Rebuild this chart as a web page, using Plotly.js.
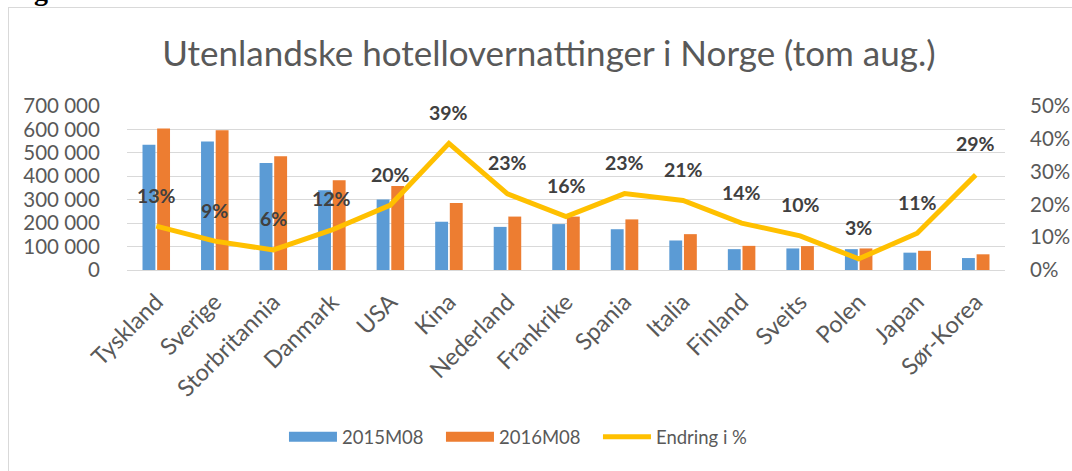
<!DOCTYPE html>
<html>
<head>
<meta charset="utf-8">
<script src="https://cdn.plot.ly/plotly-3.0.1.min.js"></script>
<style>
  html, body { margin: 0; padding: 0; background: #fff; overflow: hidden; width: 1072px; height: 471px; }
  #frame { position: absolute; left: 8px; top: 7px; width: 1080px; height: 480px; border: 1px solid #d9d9d9; box-sizing: border-box; }
  #fig { position: absolute; left: 9px; top: -23px; font-family: "Liberation Serif", serif; font-weight: bold; font-size: 28px; line-height: 28px; color: #000; white-space: nowrap; }
  #chart { position: absolute; left: 0; top: 0; width: 1072px; height: 471px; }
</style>
</head>
<body>
<div id="frame"></div>
<div id="fig">Figur 1</div>
<div id="chart"></div>
<script>
const categories = ["Tyskland","Sverige","Storbritannia","Danmark","USA","Kina","Nederland","Frankrike","Spania","Italia","Finland","Sveits","Polen","Japan","Sør-Korea"];
const values2015 = [535000,549000,457000,340000,301000,206000,184000,196000,174000,126000,89000,92000,89000,74000,51000];
const values2016 = [604000,597000,485000,383000,359000,286000,228000,228000,216000,153000,103000,102000,92000,82000,67000];
const changePct = [0.134,0.088,0.061,0.122,0.198,0.386,0.232,0.163,0.233,0.212,0.143,0.104,0.034,0.112,0.290];
const seriesNames = ["2015M08","2016M08","Endring i %"];
const titleText = "Utenlandske hotellovernattinger i Norge (tom aug.)";

const FONT = "Lato, 'Open Sans', sans-serif";
const GRAY = "#595959";
const BLUE = "#5b9bd5", ORANGE = "#ed7d31", GOLD = "#ffc000";

const traces = [
  {type:"bar", name:seriesNames[0], x:categories, y:values2015, marker:{color:BLUE}, hoverinfo:"none", showlegend:false},
  {type:"bar", name:seriesNames[1], x:categories, y:values2016, marker:{color:ORANGE}, hoverinfo:"none", showlegend:false},
  {type:"scatter", mode:"lines", name:seriesNames[2], x:categories, y:changePct, yaxis:"y2",
   line:{color:GOLD, width:5}, hoverinfo:"none", showlegend:false},
  // legend-only entries (no data) to mimic the wide Excel legend swatches
  {type:"scatter", mode:"lines", name:seriesNames[0], x:[null], y:[null], line:{color:BLUE, width:14}, hoverinfo:"none"},
  {type:"scatter", mode:"lines", name:seriesNames[1], x:[null], y:[null], line:{color:ORANGE, width:14}, hoverinfo:"none"},
  {type:"scatter", mode:"lines", name:seriesNames[2], x:[null], y:[null], yaxis:"y2", line:{color:GOLD, width:5}, hoverinfo:"none"}
];

const annotations = categories.map((c,i)=>({
  x:c, y:changePct[i], xref:"x", yref:"y2", yshift:31, showarrow:false,
  text:Math.round(changePct[i]*100)+"%",
  font:{family:FONT, size:19.5, color:"#404040", weight:"bold"}
}));

const layout = {
  width:1072, height:471,
  margin:{l:127, r:67, t:106, b:201},
  paper_bgcolor:"rgba(0,0,0,0)", plot_bgcolor:"rgba(0,0,0,0)",
  separators:", ",
  title:{text:titleText, x:0.512, xanchor:"center", y:0.885, yanchor:"middle",
         font:{family:FONT, size:35, color:GRAY}},
  barmode:"group", bargap:0.5, bargroupgap:0.12,
  showlegend:true,
  legend:{orientation:"h", x:0.447, xanchor:"center", y:-1.02, yanchor:"middle",
          font:{family:FONT, size:18.5, color:GRAY}, itemwidth:48, entrywidth:94, tracegroupgap:0},
  xaxis:{tickangle:-45, tickfont:{family:FONT, size:23.5, color:GRAY},
         showline:true, linecolor:"#d9d9d9", linewidth:1, showgrid:false,
         ticks:"outside", ticklen:8, tickcolor:"rgba(0,0,0,0)"},
  yaxis:{range:[0,700000], dtick:100000, tickformat:",d",
         tickfont:{family:FONT, size:20.5, color:GRAY},
         gridcolor:"#d9d9d9", gridwidth:1, zeroline:false,
         ticks:"outside", ticklen:22, tickcolor:"rgba(0,0,0,0)"},
  yaxis2:{range:[0,0.5], dtick:0.1, tickformat:".0%", overlaying:"y", side:"right",
          tickfont:{family:FONT, size:20.5, color:GRAY},
          showgrid:false, zeroline:false,
          ticks:"outside", ticklen:20, tickcolor:"rgba(0,0,0,0)"},
  annotations:annotations
};

Plotly.newPlot("chart", traces, layout, {displayModeBar:false, staticPlot:true});
</script>
</body>
</html>
